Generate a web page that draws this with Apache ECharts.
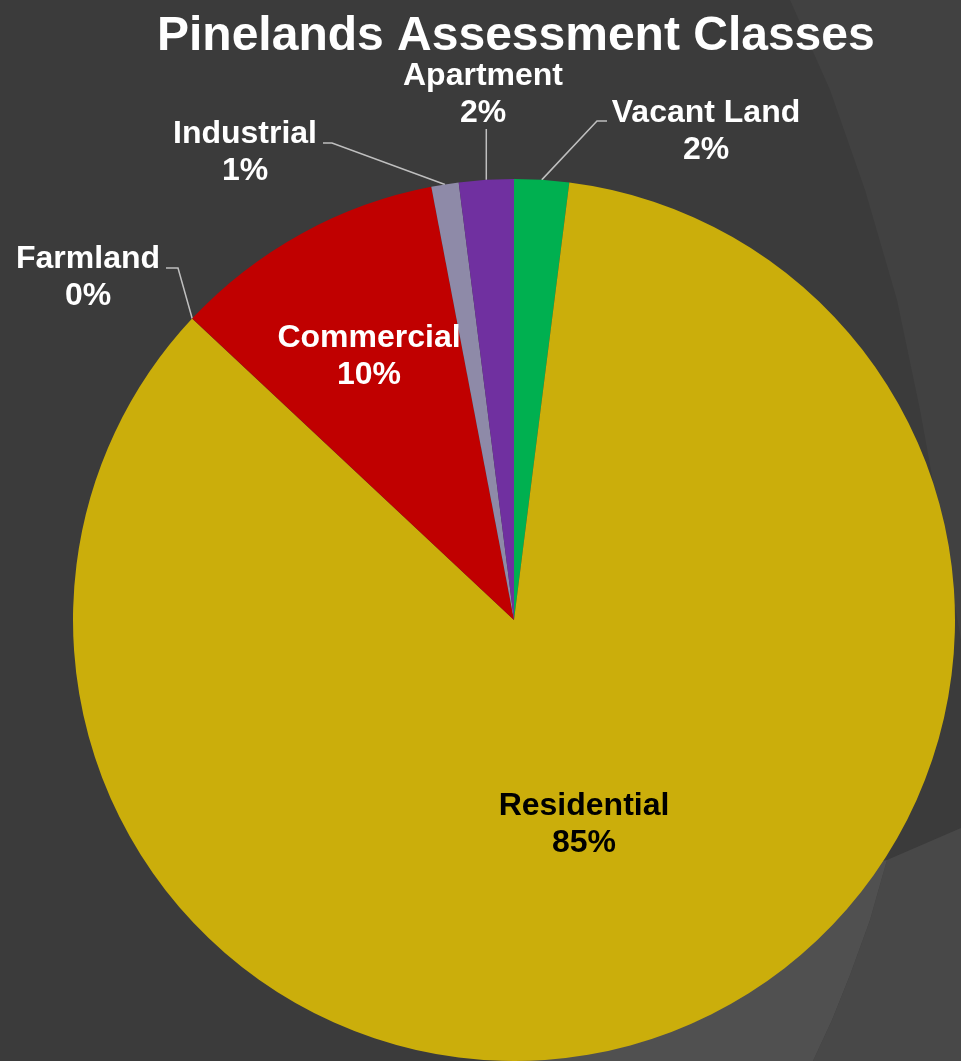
<!DOCTYPE html>
<html lang="en" style="height: 100%">
<head>
  <meta charset="utf-8">
</head>
<body style="height: 100%; margin: 0; background: #3b3b3b">
  <div id="container" style="width: 961px; height: 1061px"></div>
  <script type="text/javascript" src="https://cdn.jsdelivr.net/npm/echarts@6/dist/echarts.min.js"></script>
  <script type="text/javascript">
    // chart data (percent shares)
    const categories = ['Vacant Land', 'Residential', 'Farmland', 'Commercial', 'Industrial', 'Apartment'];
    const shares = [2.0, 84.9, 0.01, 10.0, 1.0, 2.0];
    const sliceColors = ['#00B050', '#CBAE0B', '#C00000', '#C00000', '#8E8AA8', '#7030A0'];
    const insideLabels = ['Residential', 'Commercial'];

    // where each label sits and where its leader bends (label placement only)
    const labelSpots = {
      'Vacant Land': [706, 132],
      'Residential': [584, 825],
      'Farmland': [88, 278],
      'Commercial': [369, 357],
      'Industrial': [245, 153],
      'Apartment': [483, 95]
    };
    const leaderBends = {
      'Vacant Land': [[597, 121], [607, 121]],
      'Farmland': [[178, 268], [166, 268]],
      'Industrial': [[332, 143], [323, 143]],
      'Apartment': [[null, 129]]
    };

    var dom = document.getElementById('container');
    var myChart = echarts.init(dom, null, { renderer: 'canvas' });

    const pieData = categories.map(function (name, i) {
      const inside = insideLabels.indexOf(name) >= 0;
      return {
        name: name,
        value: shares[i],
        itemStyle: { color: sliceColors[i] },
        label: {
          position: inside ? 'inside' : 'outside',
          color: name === 'Residential' ? '#000000' : '#ffffff'
        },
        labelLine: { show: !inside }
      };
    });

    var option = {
      backgroundColor: '#3b3b3b',
      animation: false,
      title: {
        text: 'Pinelands Assessment Classes',
        left: 157,
        top: 13,
        padding: 0,
        textStyle: {
          color: '#ffffff',
          fontFamily: 'Liberation Sans',
          fontWeight: 'bold',
          fontSize: 48
        }
      },
      graphic: [
        {
          type: 'polygon',
          z: -10,
          shape: { points: [[790, 0], [830, 90], [865, 190], [897, 300], [920, 410], [940, 520], [961, 640], [961, 0]] },
          style: { fill: '#414141' }
        },
        {
          type: 'polygon',
          z: -9,
          shape: { points: [[887, 860], [961, 828], [961, 1061], [813, 1061], [832, 1020], [850, 975], [870, 920]] },
          style: { fill: '#484848' }
        },
        {
          type: 'polygon',
          z: -9,
          shape: { points: [[887, 860], [870, 920], [850, 975], [832, 1020], [813, 1061], [500, 1061], [620, 920]] },
          style: { fill: '#505050' }
        }
      ],
      series: [
        {
          name: 'Assessment Classes',
          type: 'pie',
          center: [514, 620],
          radius: 441,
          startAngle: 90,
          clockwise: true,
          avoidLabelOverlap: false,
          percentPrecision: 0,
          itemStyle: { borderWidth: 0 },
          emphasis: { disabled: true },
          label: {
            show: true,
            formatter: '{b}\n{d}%',
            fontFamily: 'Liberation Sans',
            fontWeight: 'bold',
            fontSize: 32,
            lineHeight: 37,
            align: 'center'
          },
          labelLine: {
            length: 20,
            length2: 10,
            lineStyle: { color: '#bfbfbf', width: 1.5 }
          },
          labelLayout: function (params) {
            const name = categories[params.dataIndex];
            const spot = labelSpots[name];
            const out = {
              x: spot[0],
              y: spot[1],
              align: 'center',
              verticalAlign: 'middle'
            };
            const bends = leaderBends[name];
            if (bends && params.labelLinePoints) {
              const start = params.labelLinePoints[0];
              const pts = [start];
              bends.forEach(function (b) {
                pts.push([b[0] == null ? start[0] : b[0], b[1]]);
              });
              out.labelLinePoints = pts;
            }
            return out;
          },
          data: pieData
        }
      ]
    };

    myChart.setOption(option);
    window.addEventListener('resize', myChart.resize);
  </script>
</body>
</html>
